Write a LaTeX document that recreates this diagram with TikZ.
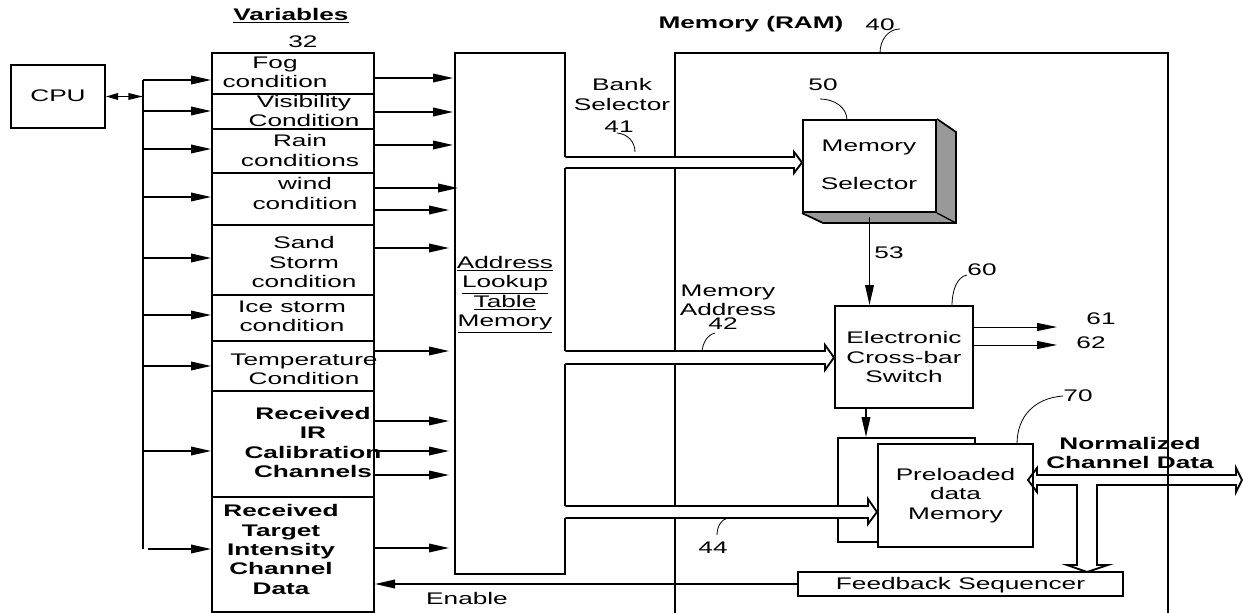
\documentclass[tikz,border=0pt]{standalone}
\usepackage{fontspec}
\setmainfont{Liberation Sans}[FakeStretch=1.56]
\usetikzlibrary{arrows.meta,fit}
\definecolor{sidegray}{RGB}{153,153,153}
\begin{document}
\begin{tikzpicture}[x=0.75pt,y=-0.75pt,
  font=\fontsize{12.6pt}{14.6pt}\selectfont,
  box/.style={draw, line width=1.5pt, inner sep=0pt},
  area/.style={inner sep=0pt},
  txt/.style={inner sep=0pt, align=center},
  lbl/.style={inner sep=0pt, text height=10pt, text depth=2pt},
  bf/.style={font=\fontsize{12.6pt}{14.6pt}\selectfont\bfseries},
  arr/.style={line width=1.1pt, -{Triangle[length=15pt,width=6.5pt]}},
  tarr/.style={line width=0.7pt, -{Triangle[length=15pt,width=6pt]}},
  dbl/.style={line width=1pt, {Triangle[length=9pt,width=5pt]}-{Triangle[length=11pt,width=5pt]}},
  lead/.style={line width=0.6pt},
  wide/.style={line width=1.4pt, line join=miter},
  divider/.style={line width=1.2pt},
]
\useasboundingbox (0,0) rectangle (1243,613);

% ---------- RAM outline ----------
\node[area, fit={(675,53) (1168,616)}] (ram) {};
\draw[line width=1.5pt] (ram.south west) -- (ram.north west) -- (ram.north east) -- (ram.south east);
\node[txt,bf] at (751,24) {Memory (RAM)};
\node[lbl] (n40) at (880,25) {40};
\draw[lead] (900,29) .. controls (888,29) and (880,40) .. (880,53);

% ---------- CPU and bus ----------
\node[box, fit={(11,65) (105,128)}] (cpu) {};
\node[lbl] at (cpu.center) {CPU};
\coordinate (busT) at (143,80);
\coordinate (busB) at (143,549);
\draw[line width=1.5pt] (busT) -- (busB);
\draw[dbl] (cpu.east) -- (cpu.east -| busT);

% ---------- Variables ----------
\node[txt,bf] at (291,16) {\underline{Variables}};
\node[lbl] at (303,42) {32};
\node[box, fit={(212,53) (374,612)}] (var) {};
\foreach \y in {94,129,173,225,295,341,391,497}
  \draw[divider] (var.west |- 0,\y) -- (var.east |- 0,\y);
\node[txt] at (275,72.5) {Fog\\condition};
\node[txt] at (304,111) {Visibility\\Condition};
\node[txt] at (300,150.5) {Rain\\conditions};
\node[txt] at (305,193.5) {wind\\condition};
\node[txt] at (304,262) {Sand\\Storm\\condition};
\node[txt] at (292,316.5) {Ice storm\\condition};
\node[txt] at (304,369.5) {Temperature\\Condition};
\node[txt,bf] at (313,442.5) {Received\\IR\\Calibration\\Channels};
\node[txt,bf] at (281,549.5) {Received\\Target\\Intensity\\Channel\\Data};

\foreach \y in {80,111,149,197,258,315,366,451}
  \draw[arr] (busT |- 0,\y) -- (var.west |- 0,\y);
\draw[arr] (148,549) -- (var.west |- 0,549);

% ---------- Address lookup table ----------
\node[area, fit={(455,53) (565,574)}] (lut) {};
\draw[line width=1.5pt] (lut.east |- 0,157) -- (lut.north east) -- (lut.north west) -- (lut.south west) -- (lut.south east) -- (lut.east |- 0,518);
\draw[line width=1.5pt] (lut.east |- 0,506) -- (lut.east |- 0,364);
\draw[line width=1.5pt] (lut.east |- 0,351) -- (lut.east |- 0,168);
\node[txt] at (505,294.5) {\underline{Address}\\\underline{Lookup}\\\underline{Table}\\\underline{Memory}};

\foreach \y/\e in {78/453,112/453,145/453,188/458,210/449,248/449,351/449,421/449,451/449,475/449,548/449}
  \draw[arr] (var.east |- 0,\y) -- (\e,\y);

% ---------- Memory selector (3D box) ----------
\node[box, fill=white, fit={(803,120) (936,212)}] (ms) {};
\fill[sidegray] (936,120) -- (956,132) -- (956,223) -- (823,223) -- (803,212) -- (936,212) -- cycle;
\draw[line width=1.3pt, line join=miter] (ms.north east) -- (956,132) -- (956,223) -- (823,223) -- (ms.south west);
\draw[line width=1pt] (ms.south east) -- (956,223);
\node[box, fit={(803,120) (936,212)}] {};
\node[lbl] at (869,146) {Memory};
\node[lbl] at (869,184) {Selector};
\node[lbl] at (823,85) {50};
\draw[lead] (820,99) .. controls (835,99) and (847,108) .. (847,120);

% ---------- Bank selector arrow ----------
\node[txt] at (622,94.5) {Bank\\Selector};
\node[lbl] at (619,127) {41};
\draw[lead] (617,133) .. controls (628,134) and (635,142) .. (635,152);
\fill[white] (563,157) -- (794,157) -- (794,152) -- (803,162.5) -- (794,173) -- (794,168) -- (563,168) -- cycle;
\draw[wide] (lut.east |- 0,157) -- (794,157) -- (794,152) -- (ms.west |- 0,162.5) -- (794,173) -- (794,168) -- (lut.east |- 0,168);

% ---------- Crossbar switch ----------
\node[box, fit={(835,306) (973,408)}] (cb) {};
\node[txt] at (cb.center) {Electronic\\Cross-bar\\Switch};
\draw[arr] (869.5,217) -- (869.5,0 |- cb.north);
\node[lbl] at (889,253) {53};
\node[lbl] at (982,270) {60};
\draw[lead] (967,275) .. controls (957,277) and (952,290) .. (952,306);
\draw[tarr] (cb.east |- 0,327) -- (1057,327);
\draw[tarr] (cb.east |- 0,345) -- (1057,345);
\node[lbl] at (1101,319) {61};
\node[lbl] at (1091,343) {62};

% ---------- Memory address arrow ----------
\node[txt] at (728,300.5) {Memory\\Address};
\node[lbl] at (723,324) {42};
\draw[lead] (715,333) .. controls (707,335) and (703,343) .. (702,351);
\fill[white] (563,351) -- (825,351) -- (825,345) -- (835,357.5) -- (825,370) -- (825,364) -- (563,364) -- cycle;
\draw[wide] (lut.east |- 0,351) -- (825,351) -- (825,345) -- (cb.west |- 0,357.5) -- (825,370) -- (825,364) -- (lut.east |- 0,364);

% ---------- Preloaded data memory ----------
\node[box, fit={(838,438) (975,542)}] (pb) {};
\draw[arr] (866,0 |- cb.south) -- (866,0 |- pb.north);
\fill[white] (563,506) -- (868,506) -- (868,499) -- (878,512) -- (868,524) -- (868,518) -- (563,518) -- cycle;
\node[box, fill=white, fit={(878,444) (1033,547)}] (pf) {};
\draw[wide] (lut.east |- 0,506) -- (868,506) -- (868,499) -- (pf.west |- 0,512) -- (868,524) -- (868,518) -- (lut.east |- 0,518);
\node[txt] at (pf.center) {Preloaded\\data\\Memory};
\node[lbl] at (1078,396) {70};
\draw[lead] (1063,396) .. controls (1035,398) and (1017,416) .. (1017,444);
\node[lbl] at (713,548) {44};
\draw[lead] (717,535) .. controls (717,526) and (722,519) .. (728,518);

% ---------- Feedback sequencer ----------
\node[box, fit={(798,572) (1123,596)}] (fs) {};
\node[lbl] at (fs.center) {Feedback Sequencer};
\draw[arr] (fs.west) -- (var.east |- fs.west);
\node[lbl] at (467,599) {Enable};

% ---------- Normalized channel data ----------
\node[txt,bf] at (1130,453) {Normalized\\Channel Data};
\draw[wide] (1037,475) -- (1236,475) -- (1236,468) -- (1242,480) -- (1236,492) -- (1236,485)
  -- (1097,485) -- (1097,565) -- (1108,565) -- (1087,572) -- (1067,565) -- (1077,565) -- (1077,485)
  -- (1037,485) -- (1037,492) -- (1028,480) -- (1037,468) -- cycle;
\end{tikzpicture}
\end{document}
